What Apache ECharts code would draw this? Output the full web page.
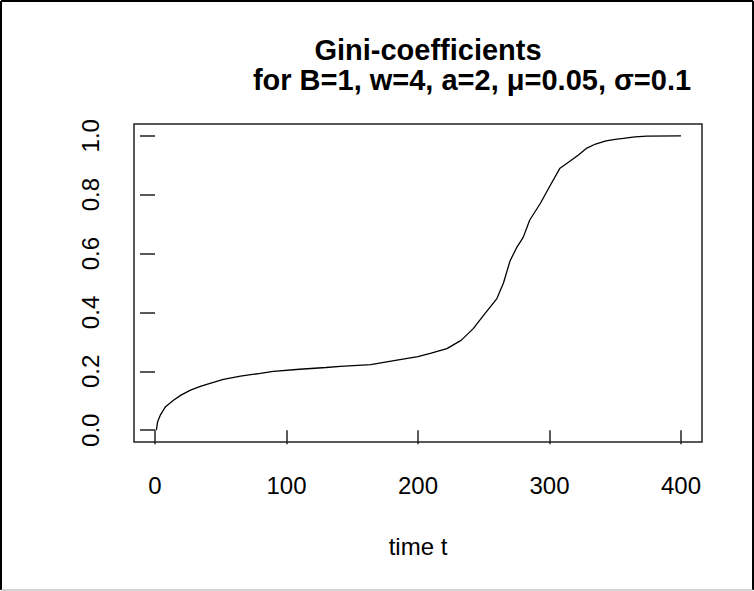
<!DOCTYPE html>
<html>
<head>
<meta charset="utf-8">
<script src="https://cdn.jsdelivr.net/npm/echarts@6/dist/echarts.min.js"></script>
<style>
  html, body { margin: 0; padding: 0; background: #fff; }
  #chart { width: 754px; height: 591px; }
</style>
</head>
<body>
<div id="chart"></div>
<script>
const titleLine1 = 'Gini-coefficients';
const titleLine2 = 'for B=1, w=4, a=2, μ=0.05, σ=0.1';
const xAxisName = 'time t';

const timeT = [1, 2, 4, 8, 14, 20, 27, 35, 45, 52, 65, 80, 90, 110, 130, 141, 164, 184, 200, 210, 222, 233, 242, 250, 260, 265, 270, 275, 280, 285, 293, 300, 308, 316, 322, 328, 335, 343, 350, 356, 365, 374, 400];
const gini  = [0.0, 0.03, 0.051, 0.08, 0.102, 0.12, 0.136, 0.150, 0.163, 0.173, 0.184, 0.193, 0.200, 0.207, 0.213, 0.217, 0.223, 0.238, 0.250, 0.262, 0.277, 0.306, 0.345, 0.391, 0.447, 0.50, 0.575, 0.62, 0.655, 0.714, 0.770, 0.827, 0.890, 0.915, 0.935, 0.957, 0.972, 0.983, 0.988, 0.991, 0.996, 0.999, 1.0];

const xTicks = [0, 100, 200, 300, 400];
const yTicks = [0, 0.2, 0.4, 0.6, 0.8, 1.0];

const FONT = '"Liberation Sans", Arial, sans-serif';

const chart = echarts.init(document.getElementById('chart'), null, { renderer: 'svg' });
chart.setOption({
  animation: false,
  backgroundColor: '#ffffff',
  title: [
    { text: titleLine1, left: 428, top: 37, textAlign: 'center', padding: 0,
      textStyle: { fontFamily: FONT, fontWeight: 'bold', fontSize: 29, lineHeight: 26, color: '#000' } },
    { text: titleLine2, left: 472, top: 67, textAlign: 'center', padding: 0,
      textStyle: { fontFamily: FONT, fontWeight: 'bold', fontSize: 29, lineHeight: 26, color: '#000' } }
  ],
  grid: {
    left: 134, top: 124, right: 52, bottom: 149,
    show: true, borderColor: '#222', borderWidth: 1.5, backgroundColor: 'transparent'
  },
  xAxis: {
    type: 'value', min: -16, max: 416,
    name: xAxisName, nameLocation: 'middle', nameGap: 92,
    nameTextStyle: { fontFamily: FONT, fontSize: 24, color: '#000' },
    axisLine: { show: false },
    axisTick: { show: true, inside: false, length: 14, customValues: xTicks, lineStyle: { color: '#222', width: 1.5 } },
    axisLabel: { show: true, margin: 31, customValues: xTicks, fontFamily: FONT, fontSize: 24, color: '#000',
      formatter: v => String(v) },
    splitLine: { show: false }
  },
  yAxis: {
    type: 'value', min: -0.04, max: 1.04,
    axisLine: { show: false },
    axisTick: { show: true, inside: false, length: 15, customValues: yTicks, lineStyle: { color: '#222', width: 1.5 } },
    axisLabel: { show: true, rotate: 90, margin: 32, customValues: yTicks, fontFamily: FONT, fontSize: 24, color: '#000',
      formatter: v => v.toFixed(1) },
    splitLine: { show: false }
  },
  series: [{
    type: 'line',
    data: timeT.map((t, i) => [t, gini[i]]),
    showSymbol: false,
    smooth: false,
    lineStyle: { color: '#000', width: 1.3 }
  }],
  graphic: [
    { type: 'line', shape: { x1: 1, y1: 1, x2: 753, y2: 1 }, style: { stroke: '#000', lineWidth: 2 } },
    { type: 'line', shape: { x1: 1, y1: 1, x2: 1, y2: 590 }, style: { stroke: '#000', lineWidth: 2 } },
    { type: 'line', shape: { x1: 753, y1: 1, x2: 753, y2: 590 }, style: { stroke: '#000', lineWidth: 2 } },
    { type: 'line', shape: { x1: 1, y1: 590, x2: 753, y2: 590 }, style: { stroke: '#aaa', lineWidth: 1 } }
  ]
});
</script>
</body>
</html>
